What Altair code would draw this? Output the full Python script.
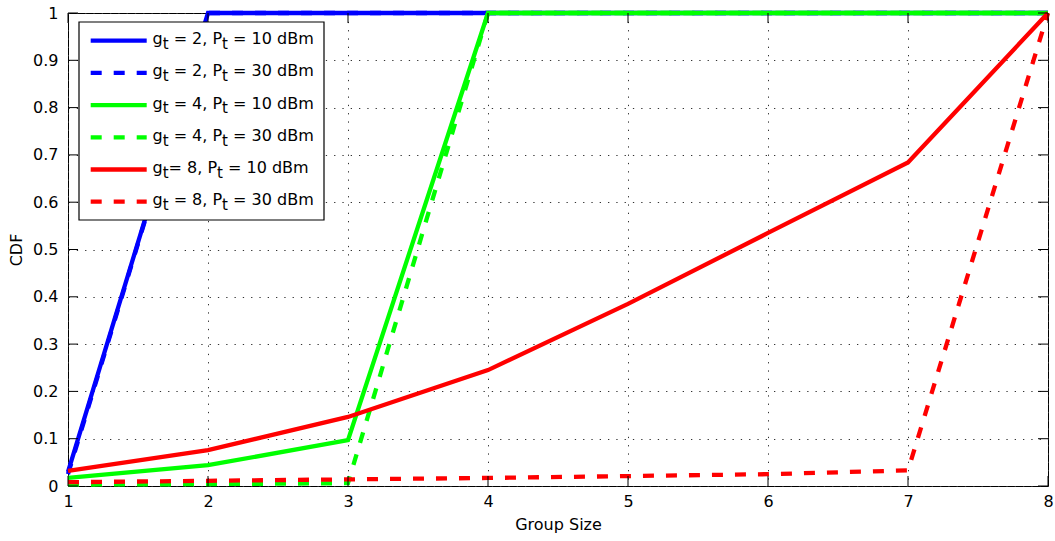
import altair as alt
import pandas as pd

# Group size on the x axis and the CDF of each configuration
group_size = [1, 2, 3, 4, 5, 6, 7, 8]
cdf_g2_10dbm = [0.030, 1, 1, 1, 1, 1, 1, 1]
cdf_g2_30dbm = [0.025, 1, 1, 1, 1, 1, 1, 1]
cdf_g4_10dbm = [0.017, 0.044, 0.097, 1, 1, 1, 1, 1]
cdf_g4_30dbm = [0.003, 0.004, 0.006, 1, 1, 1, 1, 1]
cdf_g8_10dbm = [0.032, 0.076, 0.146, 0.245, 0.385, 0.535, 0.684, 1]
cdf_g8_30dbm = [0.008, 0.011, 0.014, 0.017, 0.021, 0.025, 0.033, 1]

x_ticks = [1, 2, 3, 4, 5, 6, 7, 8]
y_ticks = [0, 0.1, 0.2, 0.3, 0.4, 0.5, 0.6, 0.7, 0.8, 0.9, 1]

# Legend text split into main text and subscript "t" pieces
legend_parts = [
    ["g", "t", " = 2, P", "t", " = 10 dBm"],
    ["g", "t", " = 2, P", "t", " = 30 dBm"],
    ["g", "t", " = 4, P", "t", " = 10 dBm"],
    ["g", "t", " = 4, P", "t", " = 30 dBm"],
    ["g", "t", "= 8, P", "t", " = 10 dBm"],
    ["g", "t", " = 8, P", "t", " = 30 dBm"],
]

series_values = [cdf_g2_10dbm, cdf_g2_30dbm, cdf_g4_10dbm,
                 cdf_g4_30dbm, cdf_g8_10dbm, cdf_g8_30dbm]
series_colors = ["#0000ff", "#0000ff", "#00ff00", "#00ff00", "#ff0000", "#ff0000"]
series_dashed = [False, True, False, True, False, True]

W, H = 980, 473
FONT = "DejaVu Sans"
LINE_W = 4.3
DASH = [11, 12]
GRID = dict(grid=True, gridDash=[1.3, 7], gridColor="#333", gridWidth=1)

xs = alt.Scale(domain=[1, 8], nice=False, zero=False)
ys = alt.Scale(domain=[0, 1], nice=False, zero=True)

x_axis = alt.Axis(values=x_ticks, title="Group Size", format="d", **GRID,
                  domain=False, ticks=False, labelPadding=7, titlePadding=7,
                  labelFont=FONT, titleFont=FONT, labelFontSize=16,
                  titleFontSize=16, titleFontWeight="normal",
                  labelColor="black", titleColor="black", labelFlush=False)
y_axis = alt.Axis(values=y_ticks, title="CDF", format="~g", **GRID,
                  domain=False, ticks=False, labelPadding=10, titlePadding=8,
                  labelFont=FONT, titleFont=FONT, labelFontSize=16,
                  titleFontSize=16, titleFontWeight="normal",
                  labelColor="black", titleColor="black", labelFlush=False)

layers = []

# Data lines, drawn in legend order
for vals, col, dashed in zip(series_values, series_colors, series_dashed):
    df = pd.DataFrame({"group": group_size, "cdf": vals})
    props = dict(color=col, strokeWidth=LINE_W, clip=False)
    if dashed:
        props["strokeDash"] = DASH
    layers.append(
        alt.Chart(df).mark_line(**props).encode(
            x=alt.X("group:Q", scale=xs, axis=x_axis),
            y=alt.Y("cdf:Q", scale=ys, axis=y_axis),
        )
    )

# Inward tick marks on all four sides of the box
TICK = 10
yt = pd.DataFrame({"cdf": y_ticks})
xt = pd.DataFrame({"group": x_ticks})
for x0, x1 in [(0, TICK), (W - TICK, W)]:
    layers.append(alt.Chart(yt).mark_rule(color="black", strokeWidth=1).encode(
        y=alt.Y("cdf:Q", scale=ys, axis=y_axis),
        x=alt.value(x0), x2=alt.value(x1)))
for y0, y1 in [(0, TICK), (H - TICK, H)]:
    layers.append(alt.Chart(xt).mark_rule(color="black", strokeWidth=1).encode(
        x=alt.X("group:Q", scale=xs, axis=x_axis),
        y=alt.value(y0), y2=alt.value(y1)))

# Legend box
LEG_X0, LEG_X1, LEG_Y0, LEG_Y1 = 11, 256, 9, 207
one = pd.DataFrame({"k": [0]})
layers.append(alt.Chart(one).mark_rect(fill="white", stroke="black", strokeWidth=1.2).encode(
    x=alt.value(LEG_X0), x2=alt.value(LEG_X1),
    y=alt.value(LEG_Y0), y2=alt.value(LEG_Y1)))

# Legend symbols and labels
ROW0, ROW_STEP = 27.7, 32.2
SYM_X0, SYM_X1, TXT_X0 = 22.7, 78.7, 84.5
MAIN_FS, SUB_FS = 16, 15

# advance widths of DejaVu Sans, per em
ADV = {" ": 0.318, ",": 0.318, "=": 0.838, "g": 0.635, "t": 0.392,
       "P": 0.603, "d": 0.635, "B": 0.686, "m": 0.974}
def text_width(s, fs):
    return sum(ADV.get(c, 0.636) for c in s) * fs

for i, (parts, col, dashed) in enumerate(zip(legend_parts, series_colors, series_dashed)):
    ly = ROW0 + ROW_STEP * i
    props = dict(color=col, strokeWidth=LINE_W)
    if dashed:
        props["strokeDash"] = DASH
    layers.append(alt.Chart(one).mark_rule(**props).encode(
        x=alt.value(SYM_X0), x2=alt.value(SYM_X1), y=alt.value(ly)))
    cx = TXT_X0
    for j, piece in enumerate(parts):
        sub = (j % 2 == 1)
        fs = SUB_FS if sub else MAIN_FS
        stripped = piece.lstrip(" ")
        lead = text_width(piece[: len(piece) - len(stripped)], fs)
        layers.append(alt.Chart(one).mark_text(
            align="left", baseline="alphabetic", font=FONT, color="black",
            fontSize=fs, text=stripped,
        ).encode(x=alt.value(cx + lead), y=alt.value(ly + (8.2 if sub else 3.4))))
        cx += text_width(piece, fs)

chart = alt.layer(*layers).properties(
    width=W, height=H,
    autosize=alt.AutoSizeParams(type="none"),
    padding={"left": 68, "top": 13, "right": 7, "bottom": 55},
    background="white",
).configure_view(stroke="black", strokeWidth=1)

chart.save("out.html", embed_options={"renderer": "svg", "actions": False})
